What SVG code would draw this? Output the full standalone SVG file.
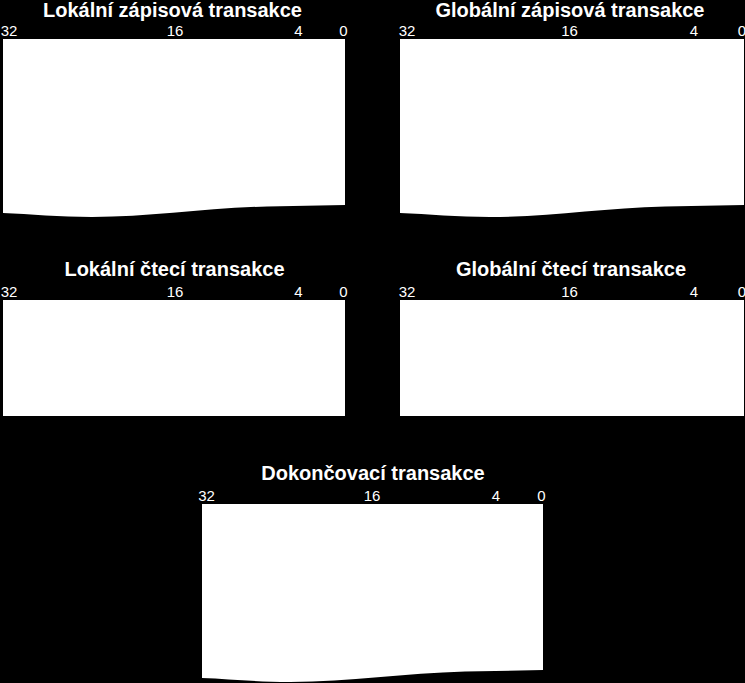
<svg xmlns="http://www.w3.org/2000/svg" width="745" height="683" viewBox="0 0 745 683">
<style>
.title{font-family:"Liberation Sans",Arial,sans-serif;font-size:20px;font-weight:bold;fill:#fff;text-anchor:middle}
.num{font-family:"Liberation Sans",Arial,sans-serif;font-size:15px;fill:#fff;text-anchor:middle}
.box{fill:#fff;stroke:none}
</style>
<rect x="0" y="0" width="745" height="683" fill="#000"/>
<g id="lokalni-zapisova">
<text class="title" x="172.5" y="16.5">Lokální zápisová transakce</text>
<text class="num" x="9" y="36">32</text>
<text class="num" x="175" y="36">16</text>
<text class="num" x="298.5" y="36">4</text>
<text class="num" x="343.5" y="36">0</text>
<path class="box" d="M3,39 H345 V205 L267,206.5 C205,208 150,217 92,217 C60,217 30,214 3,213 Z"/>
</g>
<g id="globalni-zapisova">
<text class="title" x="570" y="16.5">Globální zápisová transakce</text>
<text class="num" x="407" y="36">32</text>
<text class="num" x="569.5" y="36">16</text>
<text class="num" x="694" y="36">4</text>
<text class="num" x="742" y="36">0</text>
<path class="box" d="M400,39 H744 V205 L665,206.5 C603,208 548,217 490,217 C458,217 428,214 400,213 Z"/>
</g>
<g id="lokalni-cteci">
<text class="title" x="174.5" y="276">Lokální čtecí transakce</text>
<text class="num" x="9" y="297">32</text>
<text class="num" x="175" y="297">16</text>
<text class="num" x="298.5" y="297">4</text>
<text class="num" x="343.5" y="297">0</text>
<rect class="box" x="3" y="300" width="342" height="116"/>
</g>
<g id="globalni-cteci">
<text class="title" x="571" y="276">Globální čtecí transakce</text>
<text class="num" x="407" y="297">32</text>
<text class="num" x="569.5" y="297">16</text>
<text class="num" x="694" y="297">4</text>
<text class="num" x="742" y="297">0</text>
<rect class="box" x="400" y="300" width="344" height="116"/>
</g>
<g id="dokoncovaci">
<text class="title" x="373" y="480">Dokončovací transakce</text>
<text class="num" x="206.5" y="501">32</text>
<text class="num" x="372" y="501">16</text>
<text class="num" x="496" y="501">4</text>
<text class="num" x="541.5" y="501">0</text>
<path class="box" d="M202,504 H543 V670 L465,671.5 C405,673 350,682 290,682 C258,682 230,679 202,678 Z"/>
</g>
<g id="connectors"></g>
</svg>
